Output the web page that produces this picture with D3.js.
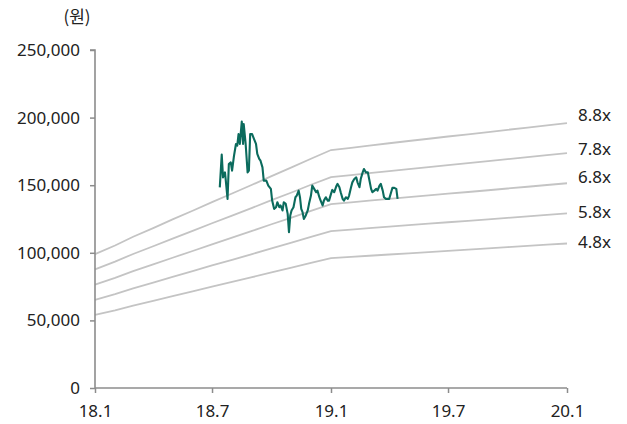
<!DOCTYPE html>
<html><head><meta charset="utf-8">
<script src="https://cdn.jsdelivr.net/npm/d3@7"></script>
<style>
html,body{margin:0;padding:0;background:#fff;}
text{font-family:"Noto Sans","Noto Sans CJK KR",sans-serif;fill:#222;}
</style></head>
<body><svg id="c" width="627" height="424"></svg>
<script>
// Monthly EPS basis for the PER bands (Jan 2018 .. Jan 2020)
const epsMonths = ["2018-01-01","2018-02-01","2018-03-01","2018-04-01","2018-05-01","2018-06-01","2018-07-01","2018-08-01","2018-09-01","2018-10-01","2018-11-01","2018-12-01","2019-01-01","2019-02-01","2019-03-01","2019-04-01","2019-05-01","2019-06-01","2019-07-01","2019-08-01","2019-09-01","2019-10-01","2019-11-01","2019-12-01","2020-01-01"];
const epsValues = [11250,11980,12710,13440,14170,14900,15625,16350,17080,17810,18540,19270,20000,20190,20380,20570,20760,20950,21140,21320,21510,21700,21890,22080,22270];
const multiples = [8.8,7.8,6.8,5.8,4.8];
const multipleLabels = ["8.8x","7.8x","6.8x","5.8x","4.8x"];

// Share price (원)
const priceDates = ["2018-07-13","2018-07-16","2018-07-18","2018-07-21","2018-07-22","2018-07-25","2018-07-27","2018-07-30","2018-08-01","2018-08-04","2018-08-07","2018-08-09","2018-08-11","2018-08-13","2018-08-16","2018-08-18","2018-08-19","2018-08-22","2018-08-25","2018-08-27","2018-08-29","2018-09-01","2018-09-04","2018-09-07","2018-09-09","2018-09-12","2018-09-14","2018-09-17","2018-09-19","2018-09-23","2018-09-26","2018-09-30","2018-10-02","2018-10-05","2018-10-08","2018-10-10","2018-10-13","2018-10-15","2018-10-18","2018-10-20","2018-10-23","2018-10-26","2018-10-28","2018-10-30","2018-11-01","2018-11-04","2018-11-07","2018-11-09","2018-11-12","2018-11-14","2018-11-16","2018-11-18","2018-11-20","2018-11-23","2018-11-26","2018-11-28","2018-12-01","2018-12-03","2018-12-06","2018-12-09","2018-12-11","2018-12-14","2018-12-16","2018-12-19","2018-12-21","2018-12-24","2018-12-27","2018-12-29","2019-01-01","2019-01-03","2019-01-06","2019-01-09","2019-01-11","2019-01-14","2019-01-16","2019-01-19","2019-01-21","2019-01-24","2019-01-27","2019-01-29","2019-02-01","2019-02-03","2019-02-06","2019-02-09","2019-02-11","2019-02-14","2019-02-16","2019-02-19","2019-02-21","2019-02-24","2019-02-27","2019-03-01","2019-03-04","2019-03-06","2019-03-09","2019-03-12","2019-03-14","2019-03-17","2019-03-19","2019-03-22","2019-03-24","2019-03-27","2019-03-30","2019-04-01","2019-04-04","2019-04-06","2019-04-09","2019-04-12","2019-04-14"];
const priceValues = [148400,172600,155800,159500,154900,139900,165700,166900,160800,171800,180500,179200,187800,180500,197100,180500,195200,180500,159500,160800,187800,187800,184100,180500,173100,169400,168100,163200,153400,153400,149700,147300,138600,132500,133700,137400,133700,135000,131300,137400,136200,128800,115300,127600,131300,133700,141100,142300,146000,141100,132500,130000,125100,127600,131300,136200,142300,149700,147300,144800,146000,141100,138600,135000,138600,141100,138600,138600,143600,146500,144800,149000,151000,148500,144800,139900,138600,141100,139900,142300,148500,152100,154600,155800,152100,148500,154600,159500,162000,159500,159500,154600,147300,144800,146000,147300,146000,149700,151000,146000,141100,139900,139900,139900,144800,148000,148000,147300,139900];

const yTicks = [0,50000,100000,150000,200000,250000];
const xTickDates = ["2018-01-01","2018-07-01","2019-01-01","2019-07-01","2020-01-01"];
const xTickLabels = ["18.1","18.7","19.1","19.7","20.1"];
const unitLabel = "(원)";

const parse = d3.timeParse("%Y-%m-%d");
const svg = d3.select("#c");
const x = d3.scaleTime().domain([parse("2018-01-01"), parse("2020-01-01")]).range([95, 567]);
const y = d3.scaleLinear().domain([0, 250000]).range([388, 50]);

// PER bands
const bandG = svg.append("g");
const eps = epsMonths.map((d,i)=>({date:parse(d), eps:epsValues[i]}));
multiples.forEach((m,k)=>{
  const line = d3.line().x(d=>x(d.date)).y(d=>y(d.eps*m));
  bandG.append("path").datum(eps).attr("d", line)
    .attr("fill","none").attr("stroke","#c4c4c4").attr("stroke-width",1.8);
  const last = eps[eps.length-1];
  const ly = y(last.eps*m);
  const dy = [-8,-4,-6,-1,-1][k];
  bandG.append("text").attr("x", 578).attr("y", ly+dy).attr("dy","0.35em")
    .attr("font-size",17).text(multipleLabels[k]);
});

// Price line
const price = priceDates.map((d,i)=>({date:parse(d), v:priceValues[i]}));
svg.append("path").datum(price)
  .attr("d", d3.line().x(d=>x(d.date)).y(d=>y(d.v)))
  .attr("fill","none").attr("stroke","#0b6b5d").attr("stroke-width",2.1)
  .attr("stroke-linejoin","round");

// Axes
const axisColor = "#8c8c8c";
const yAxis = svg.append("g").attr("transform","translate(95,0)")
  .call(d3.axisLeft(y).tickValues(yTicks).tickSize(5).tickPadding(10).tickFormat(d3.format(",")));
const xAxis = svg.append("g").attr("transform","translate(0,388)")
  .call(d3.axisBottom(x).tickValues(xTickDates.map(parse)).tickSize(5).tickPadding(12)
    .tickFormat((d,i)=>xTickLabels[i]));
[yAxis,xAxis].forEach(a=>{
  a.select(".domain").attr("stroke",axisColor).attr("stroke-width",1.6);
  a.selectAll(".tick line").attr("stroke",axisColor).attr("stroke-width",1.5);
  a.selectAll("text").attr("font-size",17).attr("fill","#222")
    .style("font-family",'"Noto Sans","Noto Sans CJK KR",sans-serif');
});
yAxis.select(".domain").attr("d","M-5,50H0V388");
xAxis.select(".domain").attr("d","M95,0H567");

svg.append("text").attr("x",77).attr("y",23).attr("text-anchor","middle")
  .attr("font-size",17).style("font-family",'"Noto Sans CJK KR",sans-serif').text(unitLabel);
</script></body></html>
